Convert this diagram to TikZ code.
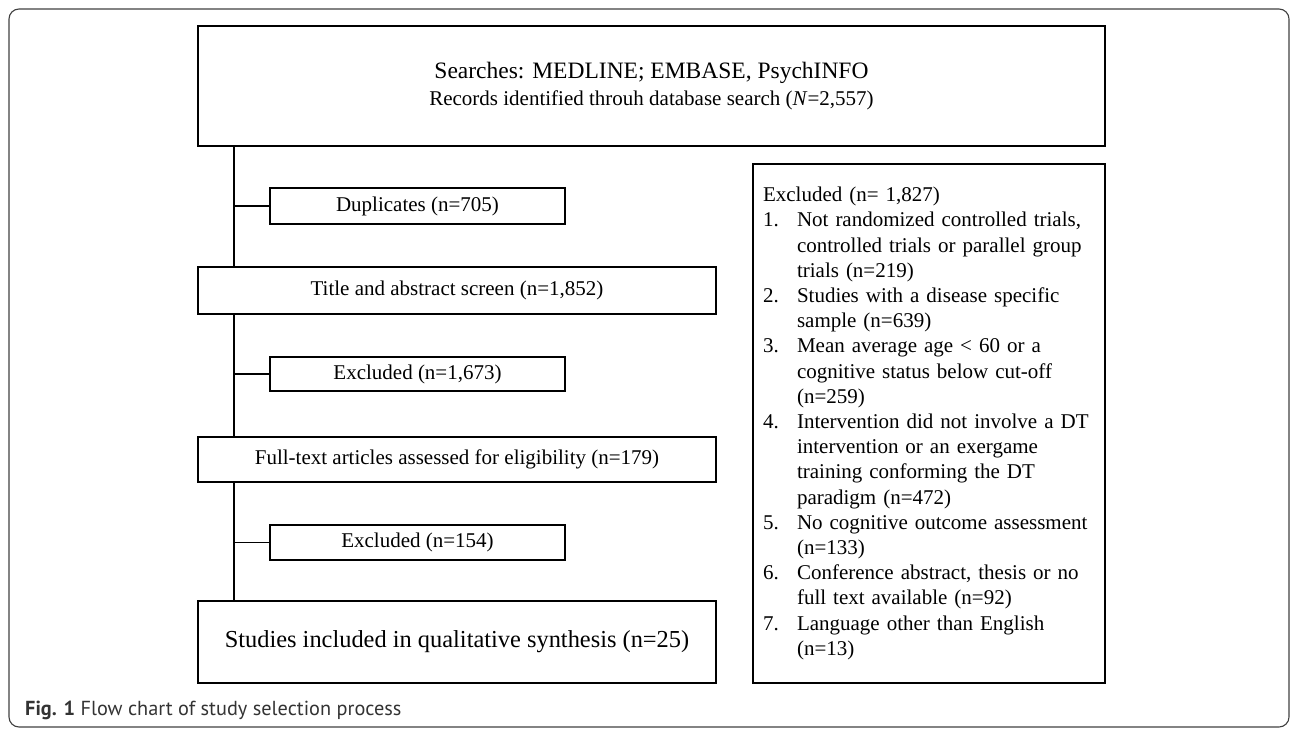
\documentclass[tikz,border=0pt]{standalone}
\usepackage{fontspec}
\setmainfont{Liberation Serif}
\newfontfamily\capfont{PT Sans}
\usepackage{tikz}

\tikzset{
	flowbox/.style={draw, line width=1.8pt, inner sep=0pt, align=center, font=\fontsize{21}{25}\selectfont},
	sidebox/.style={flowbox, minimum width=295pt},
	mainbox/.style={flowbox, minimum width=518pt},
	link/.style={line width=1.8pt},
}

\begin{document}
\begin{tikzpicture}[x=1pt, y=-1pt]
	\useasboundingbox (0,0) rectangle (1290,728);
	% outer frame
	\draw[black!75, line width=1.1pt, rounded corners=10pt] (9,9) rectangle (1289,727);
	
	\node[flowbox, minimum width=907pt, minimum height=120pt] (search) at (651.5,86)
		{{\fontsize{23.5}{27}\selectfont Searches: MEDLINE; EMBASE, PsychINFO}\\[2pt]
		Records identified throuh database search (\textit{N}=2,557)};
	\node[sidebox, minimum height=36pt] (dup) at (417.5,206) {Duplicates (n=705)};
	\node[mainbox, minimum height=47pt] (screen) at (457,290.5) {Title and abstract screen (n=1,852)};
	\node[sidebox, minimum height=34pt] (excla) at (417.5,374) {Excluded (n=1,673)};
	\node[mainbox, minimum height=45pt] (fulltext) at (457,459.5) {Full-text articles assessed for eligibility (n=179)};
	\node[sidebox, minimum height=35pt] (exclb) at (417.5,542.5) {Excluded (n=154)};
	\node[mainbox, minimum height=82pt, font=\fontsize{24.4}{28}\selectfont] (included) at (457,642)
		{Studies included in qualitative synthesis (n=25)};
	
	\node[flowbox, align=left, text width=332pt, inner xsep=10pt, minimum height=519pt,
		font=\fontsize{21}{25.2}\selectfont] (reasons) at (929,423.5) {%
		\begin{tabular}{@{}p{34pt}@{}l@{}}
			\multicolumn{2}{@{}l@{}}{Excluded (n= 1,827)}\\
			1. & Not randomized controlled trials,\\
			   & controlled trials or parallel group\\
			   & trials (n=219)\\
			2. & Studies with a disease specific\\
			   & sample (n=639)\\
			3. & Mean average age < 60 or a\\
			   & cognitive status below cut-off\\
			   & (n=259)\\
			4. & Intervention did not involve a DT\\
			   & intervention or an exergame\\
			   & training conforming the DT\\
			   & paradigm (n=472)\\
			5. & No cognitive outcome assessment\\
			   & (n=133)\\
			6. & Conference abstract, thesis or no\\
			   & full text available (n=92)\\
			7. & Language other than English\\
			   & (n=13)
		\end{tabular}};
	
	% trunk and branches
	\coordinate (trunk) at (234,0);
	\draw[link] (trunk |- search.south) -- (trunk |- screen.north);
	\draw[link] (trunk |- screen.south) -- (trunk |- fulltext.north);
	\draw[link] (trunk |- fulltext.south) -- (trunk |- included.north);
	\draw[link] (trunk |- dup.west) -- (dup.west);
	\draw[link] (trunk |- excla.west) -- (excla.west);
	\draw[link] (trunk |- exclb.west) -- (exclb.west);
	
	\node[anchor=west, inner sep=0pt, text=black!80, font=\capfont\fontsize{20.3}{23}\selectfont] (caption) at (25,710)
		{\textbf{Fig. 1} Flow chart of study selection process};
\end{tikzpicture}
\end{document}
